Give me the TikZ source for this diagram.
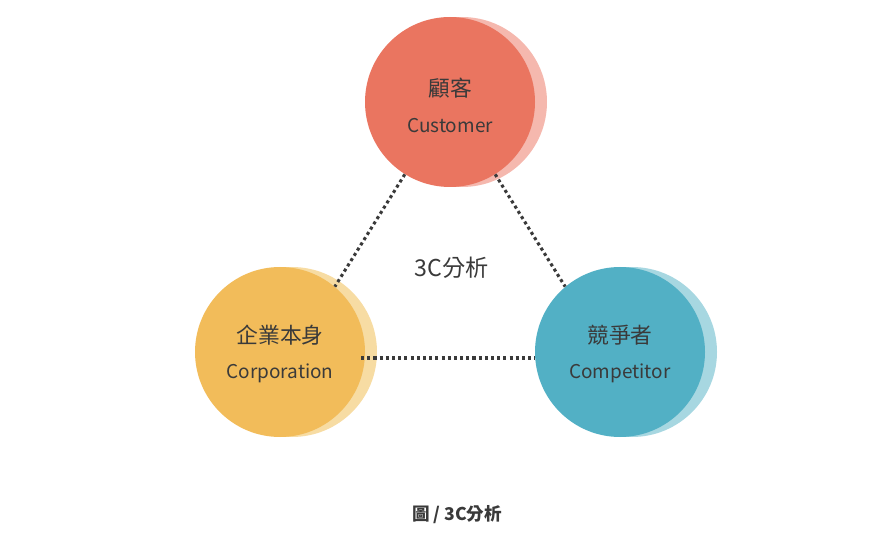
\documentclass[tikz,border=0pt]{standalone}
\usepackage{fontspec}
\setmainfont{Noto Sans CJK TC}
\definecolor{txt}{HTML}{3A3A3A}
\definecolor{cr}{HTML}{EA7560}\definecolor{crl}{HTML}{F5B8AE}
\definecolor{cy}{HTML}{F2BC5A}\definecolor{cyl}{HTML}{F7DCA3}
\definecolor{ct}{HTML}{52B0C5}\definecolor{ctl}{HTML}{A7D7E1}
\begin{document}
\begin{tikzpicture}[x=0.025cm,y=-0.025cm,
  ball/.style={circle,minimum size=170*0.025cm,inner sep=0pt,text=txt,align=center},
  link/.style={draw=txt,line width=2.2pt,dash pattern=on 2.2pt off 2.2pt},
  zh/.style={font=\fontsize{15.5}{18}\selectfont},
  en/.style={font=\fontsize{13.5}{16}\selectfont}]
\useasboundingbox (0,0) rectangle (895,544);
\fill[crl] (462,102) circle (85);
\fill[cyl] (292,352) circle (85);
\fill[ctl] (632,352) circle (85);
\node[ball,fill=cr] (cu) at (450,102) {};
\node[ball,fill=cy] (co) at (280,352) {};
\node[ball,fill=ct] (cp) at (620,352) {};
\node[zh,text=txt] (cu1) at (450,88) {顧客};
\node[en,text=txt] (cu2) at (450,126) {Customer};
\node[zh,text=txt] (co1) at (280,335) {企業本身};
\node[en,text=txt] (co2) at (280,373) {Corporation};
\node[zh,text=txt] (cp1) at (620,335) {競爭者};
\node[en,text=txt] (cp2) at (620,373) {Competitor};
\draw[link] (cu.238) -- (co.50);
\draw[link] (cu.302) -- (cp.130);
\draw[link] ([xshift=-3pt]co.east |- 0,358) coordinate (a) -- (cp.west |- 0,358) coordinate (b);
\node[text=txt,font=\fontsize{16.5}{20}\selectfont] (mid) at (452,268) {3C分析};
\node[text=txt,font=\bfseries\fontsize{12.5}{15}\selectfont] (cap) at (457,515) {圖 / 3C分析};
\end{tikzpicture}
\end{document}
